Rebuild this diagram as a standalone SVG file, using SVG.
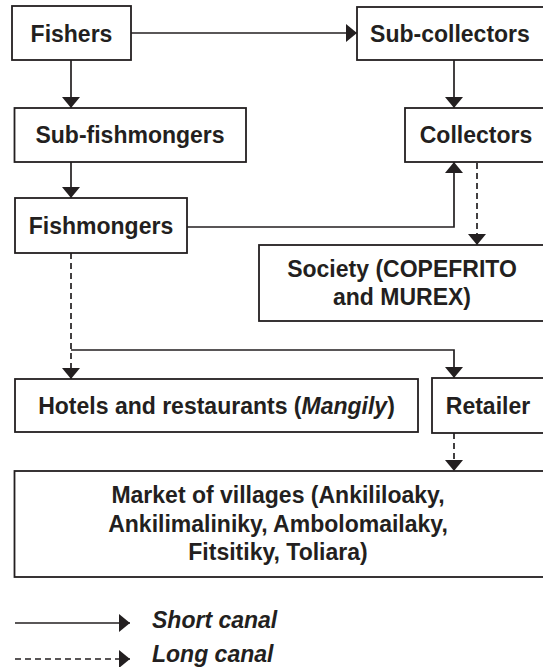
<svg xmlns="http://www.w3.org/2000/svg" width="543" height="667" viewBox="0 0 543 667">
<defs>
<style>
.box{fill:#fff;stroke:#231f20;stroke-width:1.8}
.t{font-family:"Liberation Sans",Arial,Helvetica,sans-serif;font-weight:bold;font-size:23px;fill:#231f20;text-anchor:middle}
.lg{font-family:"Liberation Sans",Arial,Helvetica,sans-serif;font-weight:bold;font-style:italic;font-size:23px;fill:#231f20}
.c{fill:none;stroke:#231f20;stroke-width:1.7}
.d{stroke-dasharray:6 4}
</style>
<marker id="ah" viewBox="0 0 11 18" refX="11" refY="9" markerWidth="11" markerHeight="18" markerUnits="userSpaceOnUse" orient="auto">
<path d="M0,0 L11,9 L0,18 Z" fill="#231f20" stroke="none"/>
</marker>
</defs>
<rect width="543" height="667" fill="#fff"/>
<g id="connectors">
<path class="c" d="M131,33 H357" marker-end="url(#ah)"/>
<path class="c" d="M71,60 V108" marker-end="url(#ah)"/>
<path class="c" d="M71,162 V198" marker-end="url(#ah)"/>
<path class="c" d="M454,60 V108" marker-end="url(#ah)"/>
<path class="c" d="M187,227 H454 V162" marker-end="url(#ah)"/>
<path class="c d" d="M477,163 V245" marker-end="url(#ah)"/>
<path class="c d" d="M71,253 V379" marker-end="url(#ah)"/>
<path class="c" d="M71,350 H454 V378" marker-end="url(#ah)"/>
<path class="c d" d="M454,433 V471" marker-end="url(#ah)"/>
</g>
<g id="fishers"><rect class="box" x="12" y="6" width="119" height="54"/><text class="t" x="71.5" y="42">Fishers</text></g>
<g id="sub-collectors"><rect class="box" x="357" y="7" width="192" height="53"/><text class="t" x="450" y="42">Sub-collectors</text></g>
<g id="sub-fishmongers"><rect class="box" x="14.5" y="108" width="231.5" height="54"/><text class="t" x="130" y="143">Sub-fishmongers</text></g>
<g id="collectors"><rect class="box" x="405" y="108" width="144" height="54"/><text class="t" x="476" y="143">Collectors</text></g>
<g id="fishmongers"><rect class="box" x="15" y="198" width="172" height="55"/><text class="t" x="101" y="234">Fishmongers</text></g>
<g id="society"><rect class="box" x="259" y="245" width="290" height="76"/><text class="t" x="402" y="277">Society (COPEFRITO</text><text class="t" x="402" y="305">and MUREX)</text></g>
<g id="hotels"><rect class="box" x="15" y="379" width="403" height="53"/><text class="t" x="216.5" y="414">Hotels and restaurants (<tspan font-style="italic">Mangily</tspan>)</text></g>
<g id="retailer"><rect class="box" x="432" y="378" width="117" height="55"/><text class="t" x="488" y="414">Retailer</text></g>
<g id="market"><rect class="box" x="14.5" y="471" width="535" height="106"/><text class="t" x="278" y="503">Market of villages (Ankililoaky,</text><text class="t" x="278" y="532">Ankilimaliniky, Ambolomailaky,</text><text class="t" x="278" y="560">Fitsitiky, Toliara)</text></g>
<g id="legend">
<path class="c" d="M15,623 H130" marker-end="url(#ah)"/>
<path class="c d" d="M15,659 H130" marker-end="url(#ah)"/>
<text class="lg" x="152" y="628">Short canal</text>
<text class="lg" x="152" y="662">Long canal</text>
</g>
</svg>
